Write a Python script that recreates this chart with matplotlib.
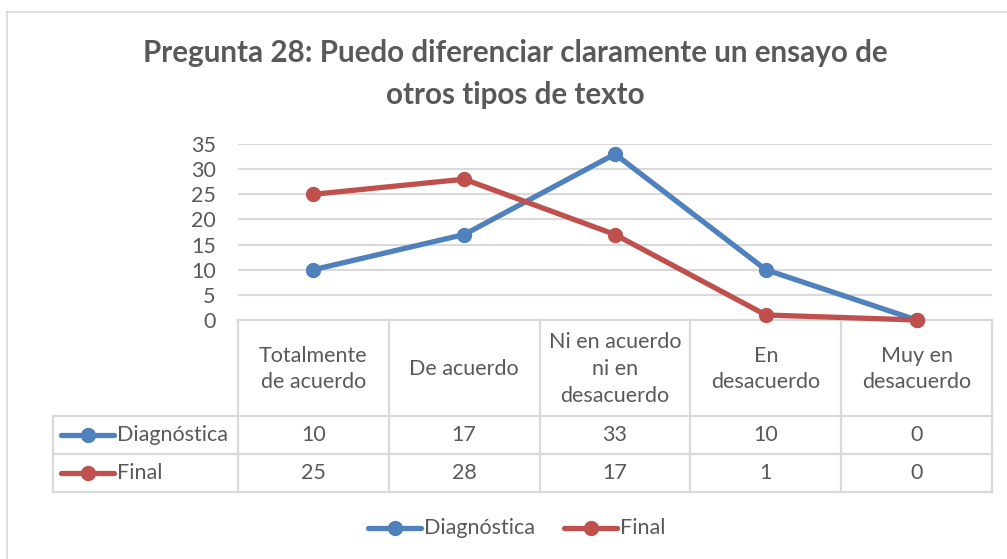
import matplotlib
matplotlib.use("Agg")
import matplotlib.pyplot as plt
from matplotlib.lines import Line2D

# data
categories = ["Totalmente\nde acuerdo", "De acuerdo", "Ni en acuerdo\nni en\ndesacuerdo",
              "En\ndesacuerdo", "Muy en\ndesacuerdo"]
series_names = ["Diagnóstica", "Final"]
diagnostica = [10, 17, 33, 10, 0]
final = [25, 28, 17, 1, 0]
y_ticks = [0, 5, 10, 15, 20, 25, 30, 35]
title = "Pregunta 28: Puedo diferenciar claramente un ensayo de\notros tipos de texto"

colors = ["#4f81bd", "#c0504d"]
grid_c = "#d9d9d9"
text_c = "#595959"
FONT = "Lato"
FS = 15.5

W, H = 1007, 559
fig = plt.figure(figsize=(W / 100, H / 100), dpi=100)


def box(x0, y0, x1, y1):
    # pixel box (top-left origin) -> figure fraction rect
    return [x0 / W, 1 - y1 / H, (x1 - x0) / W, (y1 - y0) / H]


# plot area
px0, px1, ptop, pbot = 238, 992, 144, 320
ax = fig.add_axes(box(px0, ptop, px1, pbot))
ax.set_xlim(-0.5, len(categories) - 0.5)
ax.set_ylim(0, 35)
ax.set_yticks(y_ticks)
ax.set_yticklabels([str(t) for t in y_ticks], fontsize=FS, color=text_c, family=FONT)
ax.tick_params(axis="y", length=0, pad=16)
ax.tick_params(axis="x", length=0, labelbottom=False)
ax.grid(axis="y", color=grid_c, linewidth=1.5)
ax.set_axisbelow(True)
for s in ax.spines.values():
    s.set_visible(False)
ax.patch.set_alpha(0)

xs = list(range(len(categories)))
all_series = [diagnostica, final]
for vals, c in zip(all_series, colors):
    ax.plot(xs, vals, color=c, linewidth=3.8, marker="o", markersize=10,
            solid_capstyle="round", clip_on=False, zorder=3)

# overlay for table, title, legend and border
ov = fig.add_axes([0, 0, 1, 1], zorder=-1)
ov.set_xlim(0, W)
ov.set_ylim(H, 0)
ov.axis("off")

# chart border
ov.plot([7, 7], [12, H], color="#d9d9d9", lw=1.2)
ov.plot([7, W], [12, 12], color="#d9d9d9", lw=1.2)

ov.text(515, 74, title, ha="center", va="center", fontsize=21.3, fontweight="bold",
        color=text_c, family=FONT, linespacing=1.6)

# data table
col_w = (px1 - px0) / len(categories)
row_lines = [pbot, 416, 454, 492]
tab_left = 53
lc = "#d9d9d9"
lw = 1.6
ov.plot([px0, px1], [pbot, pbot], color=lc, lw=lw)
for y in row_lines[1:]:
    ov.plot([tab_left, px1], [y, y], color=lc, lw=lw)
for i in range(len(categories) + 1):
    x = px0 + i * col_w
    ov.plot([x, x], [pbot, row_lines[-1]], color=lc, lw=lw)
ov.plot([tab_left, tab_left], [row_lines[1], row_lines[-1]], color=lc, lw=lw)

for i, cat in enumerate(categories):
    cx = px0 + (i + 0.5) * col_w
    ov.text(cx, (row_lines[0] + row_lines[1]) / 2 + 1, cat, ha="center", va="center",
            fontsize=FS, color=text_c, family=FONT, linespacing=1.42)
    for r, vals in enumerate(all_series):
        cy = (row_lines[r + 1] + row_lines[r + 2]) / 2
        ov.text(cx, cy, str(vals[i]), ha="center", va="center",
                fontsize=FS, color=text_c, family=FONT)


def legend_key(x, y, c, name):
    ov.add_line(Line2D([x, x + 53], [y, y], color=c, lw=3.8, solid_capstyle="round"))
    ov.plot([x + 27], [y], marker="o", markersize=10, color=c)
    ov.text(x + 56, y, name, ha="left", va="center", fontsize=FS,
            color=text_c, family=FONT)


for r, (name, c) in enumerate(zip(series_names, colors)):
    cy = (row_lines[r + 1] + row_lines[r + 2]) / 2
    legend_key(61, cy, c, name)

legend_key(368, 528, colors[0], series_names[0])
legend_key(564, 528, colors[1], series_names[1])

fig.savefig("out.png", dpi=100)
